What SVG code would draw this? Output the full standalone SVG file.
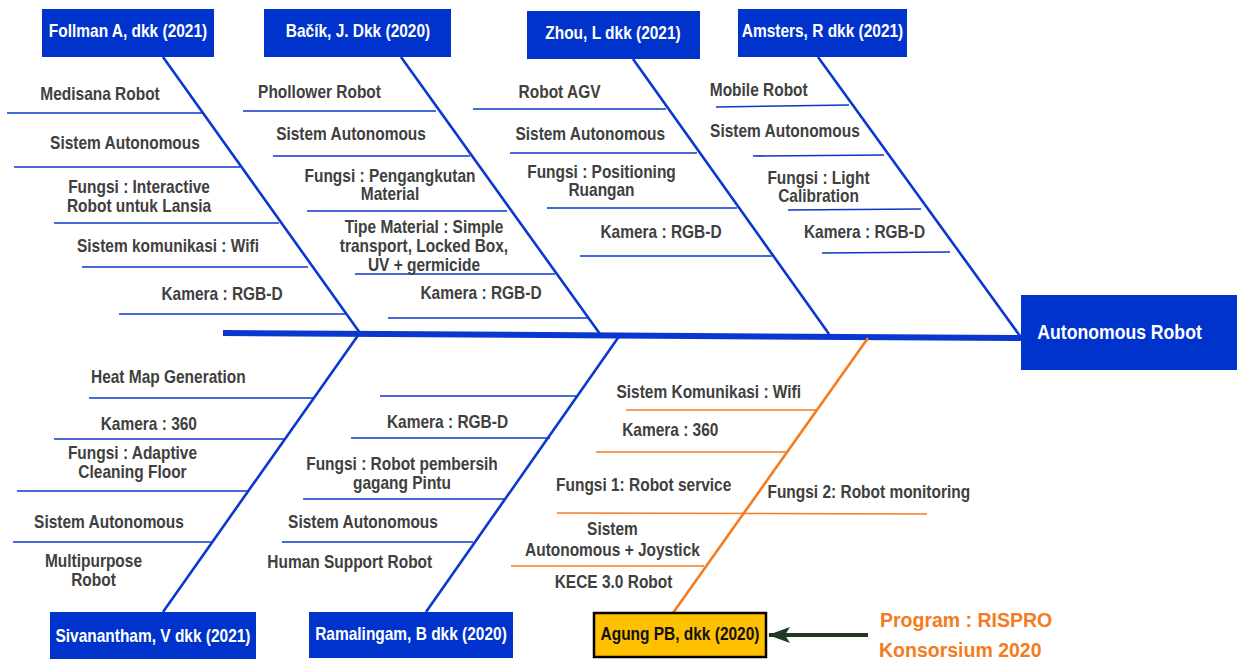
<svg xmlns="http://www.w3.org/2000/svg" width="1239" height="662" viewBox="0 0 1239 662">
  <defs>
    <style>
      .box { fill: #0033CC; }
      .spine { stroke: #0A37CF; stroke-width: 6; fill: none; }
      .bone { stroke: #0A37CF; stroke-width: 2.6; fill: none; }
      .rib { stroke: #0A37CF; stroke-width: 1.6; fill: none; }
      .bone-o { stroke: #F47B20; stroke-width: 2.6; fill: none; }
      .rib-o { stroke: #F47B20; stroke-width: 1.6; fill: none; }
      text { font-family: "Liberation Sans", Arial, sans-serif; font-weight: bold; text-anchor: middle;
             transform-box: fill-box; transform-origin: center; }
      .t { font-size: 18px; fill: #404040; transform: scaleX(0.86); }
      .w { font-size: 18px; fill: #FFFFFF; transform: scaleX(0.86); }
      .k { font-size: 18px; fill: #111111; transform: scaleX(0.86); }
      .head { font-size: 21px; fill: #FFFFFF; transform: scaleX(0.84); }
      .prog { font-size: 19.5px; fill: #F47B20; text-anchor: start; }
    </style>
    <marker id="arrow" viewBox="0 0 22 16" refX="21" refY="8" markerWidth="22" markerHeight="16" markerUnits="userSpaceOnUse" orient="auto">
      <path d="M0,0 L22,8 L0,16 L5,8 z" fill="#1E3A22"/>
    </marker>
  </defs>
  <rect width="1239" height="662" fill="#FFFFFF"/>

  <!-- spine, bones and ribs -->
  <g id="connectors">
    <line class="spine" x1="223" y1="333" x2="1021" y2="338"/>

    <line class="bone" x1="163" y1="57" x2="360" y2="333"/>
    <line class="bone" x1="401" y1="57" x2="600" y2="334"/>
    <line class="bone" x1="633" y1="59" x2="829" y2="334"/>
    <line class="bone" x1="818" y1="57" x2="1020" y2="336"/>
    <line class="bone" x1="359" y1="334" x2="163" y2="612"/>
    <line class="bone" x1="620" y1="335" x2="426" y2="612"/>
    <line class="bone-o" x1="868" y1="338" x2="673" y2="613"/>

    <!-- Follman ribs -->
    <line class="rib" x1="7" y1="113" x2="202" y2="113"/>
    <line class="rib" x1="14" y1="167" x2="240" y2="167"/>
    <line class="rib" x1="54" y1="223" x2="279" y2="223"/>
    <line class="rib" x1="82" y1="267" x2="308" y2="267"/>
    <line class="rib" x1="119" y1="314" x2="345" y2="314"/>
    <!-- Bacik ribs -->
    <line class="rib" x1="243" y1="111" x2="436" y2="111"/>
    <line class="rib" x1="273" y1="156" x2="470" y2="156"/>
    <line class="rib" x1="307" y1="211" x2="507" y2="211"/>
    <line class="rib" x1="355" y1="274" x2="555" y2="274"/>
    <line class="rib" x1="388" y1="318" x2="588" y2="318"/>
    <!-- Zhou ribs -->
    <line class="rib" x1="473" y1="109" x2="666" y2="109"/>
    <line class="rib" x1="510" y1="153" x2="697" y2="153"/>
    <line class="rib" x1="547" y1="208" x2="737" y2="208"/>
    <line class="rib" x1="580" y1="256" x2="772" y2="256"/>
    <!-- Amsters ribs -->
    <line class="rib" x1="716" y1="107" x2="849" y2="105"/>
    <line class="rib" x1="753" y1="156" x2="884" y2="155"/>
    <line class="rib" x1="788" y1="210" x2="921" y2="209"/>
    <line class="rib" x1="822" y1="253" x2="950" y2="252"/>
    <!-- Sivanantham ribs -->
    <line class="rib" x1="89" y1="398" x2="313" y2="398"/>
    <line class="rib" x1="54" y1="439" x2="284" y2="439"/>
    <line class="rib" x1="17" y1="491" x2="247" y2="491"/>
    <line class="rib" x1="13" y1="542" x2="211" y2="542"/>
    <!-- Ramalingam ribs -->
    <line class="rib" x1="380" y1="396" x2="578" y2="396"/>
    <line class="rib" x1="351" y1="438" x2="550" y2="438"/>
    <line class="rib" x1="303" y1="499" x2="505" y2="499"/>
    <line class="rib" x1="282" y1="542" x2="473" y2="542"/>
    <!-- Agung ribs -->
    <line class="rib-o" x1="626" y1="410" x2="816" y2="410"/>
    <line class="rib-o" x1="596" y1="452" x2="787" y2="452"/>
    <line class="rib-o" x1="557" y1="513" x2="927" y2="514"/>
    <line class="rib-o" x1="511" y1="566" x2="704" y2="566"/>

    <!-- program pointer -->
    <line x1="868" y1="635" x2="769" y2="635" stroke="#1E3A22" stroke-width="4" marker-end="url(#arrow)"/>
  </g>

  <!-- head -->
  <g id="node-head">
    <rect class="box" x="1021" y="295" width="216" height="75"/>
    <text class="head" x="1119.5" y="339.3">Autonomous Robot</text>
  </g>

  <!-- reference boxes -->
  <g id="node-follman">
    <rect class="box" x="42" y="9" width="172" height="48"/>
    <text class="w" x="128" y="37.3">Follman A, dkk (2021)</text>
  </g>
  <g id="node-bacik">
    <rect class="box" x="264" y="9" width="187" height="48"/>
    <text class="w" x="358" y="37">Bačík, J. Dkk (2020)</text>
  </g>
  <g id="node-zhou">
    <rect class="box" x="527" y="11" width="173" height="48"/>
    <text class="w" x="613" y="39.3">Zhou, L dkk (2021)</text>
  </g>
  <g id="node-amsters">
    <rect class="box" x="738" y="9" width="169" height="48"/>
    <text class="w" x="822.5" y="37">Amsters, R dkk (2021)</text>
  </g>
  <g id="node-sivanantham">
    <rect class="box" x="50" y="612" width="206" height="47"/>
    <text class="w" x="153" y="641.7">Sivanantham, V dkk (2021)</text>
  </g>
  <g id="node-ramalingam">
    <rect class="box" x="309" y="612" width="204" height="46"/>
    <text class="w" x="411" y="640">Ramalingam, B dkk (2020)</text>
  </g>
  <g id="node-agung">
    <rect x="594" y="613" width="172" height="44" fill="#FFC000" stroke="#000000" stroke-width="2.5"/>
    <text class="k" x="680" y="640">Agung PB, dkk (2020)</text>
  </g>

  <!-- cause labels -->
  <g id="causes-follman">
    <text class="t" x="100" y="100">Medisana Robot</text>
    <text class="t" x="125" y="149">Sistem Autonomous</text>
    <text class="t" x="139" y="192.7">Fungsi : Interactive<tspan x="139" y="211.7">Robot untuk Lansia</tspan></text>
    <text class="t" x="168" y="252">Sistem komunikasi : Wifi</text>
    <text class="t" x="222" y="300.5">Kamera : RGB-D</text>
  </g>
  <g id="causes-bacik">
    <text class="t" x="319.5" y="98.3">Phollower Robot</text>
    <text class="t" x="351" y="140">Sistem Autonomous</text>
    <text class="t" x="390" y="181.7">Fungsi : Pengangkutan<tspan x="390" y="200">Material</tspan></text>
    <text class="t" x="424" y="233.5">Tipe Material : Simple<tspan x="424" y="252.5">transport, Locked Box,</tspan><tspan x="424" y="271.5">UV + germicide</tspan></text>
    <text class="t" x="481" y="299">Kamera : RGB-D</text>
  </g>
  <g id="causes-zhou">
    <text class="t" x="559.5" y="98.3">Robot AGV</text>
    <text class="t" x="590.3" y="140">Sistem Autonomous</text>
    <text class="t" x="601.5" y="177.7">Fungsi : Positioning<tspan x="601.5" y="196">Ruangan</tspan></text>
    <text class="t" x="661" y="238.3">Kamera : RGB-D</text>
  </g>
  <g id="causes-amsters">
    <text class="t" x="758.7" y="95.7">Mobile Robot</text>
    <text class="t" x="785" y="137.3">Sistem Autonomous</text>
    <text class="t" x="818.5" y="184">Fungsi : Light<tspan x="818.5" y="202.3">Calibration</tspan></text>
    <text class="t" x="864.5" y="238.3">Kamera : RGB-D</text>
  </g>
  <g id="causes-sivanantham">
    <text class="t" x="168.3" y="383.3">Heat Map Generation</text>
    <text class="t" x="148.8" y="430">Kamera : 360</text>
    <text class="t" x="132.5" y="459.3">Fungsi : Adaptive<tspan x="132.5" y="478.3">Cleaning Floor</tspan></text>
    <text class="t" x="109" y="528.3">Sistem Autonomous</text>
    <text class="t" x="93.5" y="567.3">Multipurpose<tspan x="93.5" y="586">Robot</tspan></text>
  </g>
  <g id="causes-ramalingam">
    <text class="t" x="447.5" y="428.3">Kamera : RGB-D</text>
    <text class="t" x="402" y="470">Fungsi : Robot pembersih<tspan x="402" y="489">gagang Pintu</tspan></text>
    <text class="t" x="363" y="528.3">Sistem Autonomous</text>
    <text class="t" x="349.7" y="568.3">Human Support Robot</text>
  </g>
  <g id="causes-agung">
    <text class="t" x="708.8" y="398.3">Sistem Komunikasi : Wifi</text>
    <text class="t" x="670.3" y="435.7">Kamera : 360</text>
    <text class="t" x="643.7" y="490.7">Fungsi 1: Robot service</text>
    <text class="t" x="868.8" y="498.3">Fungsi 2: Robot monitoring</text>
    <text class="t" x="612.4" y="535">Sistem<tspan x="612.4" y="555.7">Autonomous + Joystick</tspan></text>
    <text class="t" x="613.5" y="588.3">KECE 3.0 Robot</text>
  </g>

  <!-- programme note -->
  <g id="note-program">
    <text class="prog" x="880" y="626.7">Program : RISPRO</text>
    <text class="prog" x="879" y="657.3">Konsorsium 2020</text>
  </g>
</svg>
